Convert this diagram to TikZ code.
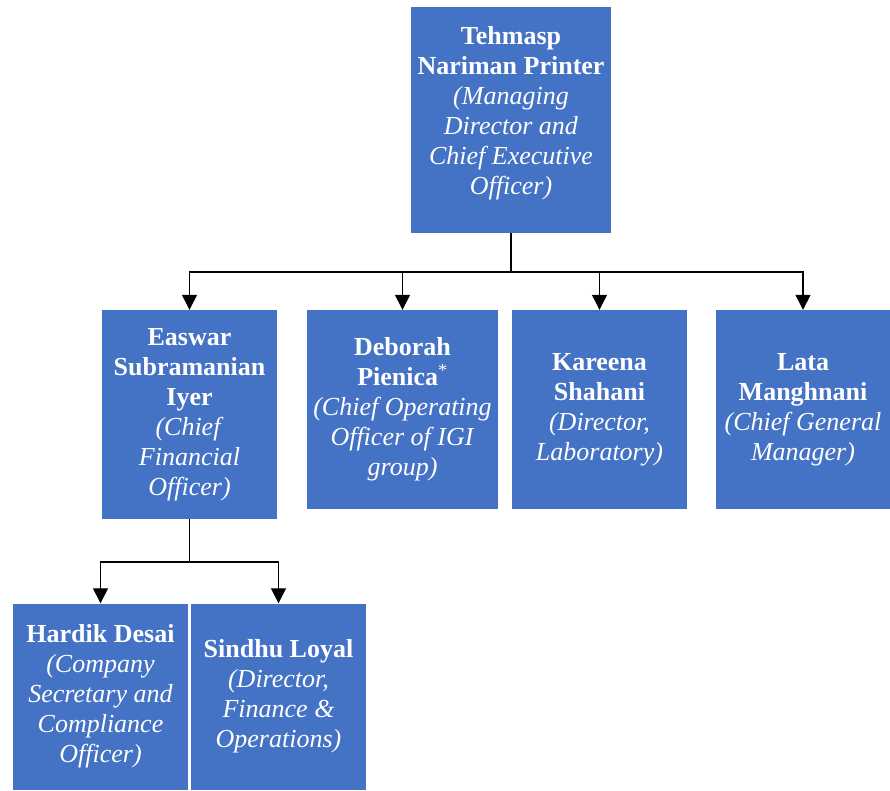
\documentclass[tikz,border=0pt]{standalone}
\usepackage{fontspec}
\setmainfont{Liberation Serif}
\usepackage{tikz}
\usetikzlibrary{arrows.meta,positioning}
\definecolor{orgblue}{HTML}{4472C4}

\begin{document}
\begin{tikzpicture}[x=1pt, y=1pt,
  member/.style={draw=none, fill=orgblue, text=white, align=center, inner sep=0pt,
    font=\fontsize{26}{30}\selectfont},
  link/.style={draw=black, line width=1.3pt},
  arrowed/.style={link, -{Triangle[width=15pt,length=15pt]}}]

  \useasboundingbox (0,0) rectangle (890,-790);

  % Define nodes for each person
  \node[member, minimum width=200, minimum height=226] (ceo) at (511,-120)
    {\textbf{Tehmasp}\\\textbf{Nariman Printer}\\\textit{(Managing}\\\textit{Director and}\\\textit{Chief Executive}\\\textit{Officer)}\\[-10pt]};
  \node[member, minimum width=175, minimum height=209] (cfo) at (189.5,-414.5)
    {\textbf{Easwar}\\\textbf{Subramanian}\\\textbf{Iyer}\\\textit{(Chief}\\\textit{Financial}\\\textit{Officer)}};
  \node[member, minimum width=191, minimum height=199] (coo) at (402.5,-409.5)
    {\textbf{Deborah}\\\textbf{Pienica}\textsuperscript{*}\\\textit{(Chief Operating}\\\textit{Officer of IGI}\\\textit{group)}};
  \node[member, minimum width=175, minimum height=199] (lab) at (599.5,-409.5)
    {\textbf{Kareena}\\\textbf{Shahani}\\\textit{(Director,}\\\textit{Laboratory)}};
  \node[member, minimum width=174, minimum height=199] (cgm) at (803,-409.5)
    {\textbf{Lata}\\\textbf{Manghnani}\\\textit{(Chief General}\\\textit{Manager)}};
  \node[member, minimum width=175, minimum height=186] (cs) at (100.5,-696.5)
    {\textbf{Hardik Desai}\\\textit{(Company}\\\textit{Secretary and}\\\textit{Compliance}\\\textit{Officer)}};
  \node[member, minimum width=175, minimum height=186] (fin) at (278.5,-696.5)
    {\textbf{Sindhu Loyal}\\\textit{(Director,}\\\textit{Finance \&}\\\textit{Operations)}};

  % Junctions of the connectors
  \coordinate (top bus) at (511,-272);
  \coordinate (cfo bus) at (189.5,-562);

  % Draw connectors between nodes
  \draw[link] (ceo) -- (top bus);
  \draw[arrowed] (top bus) -| (cfo.north);
  \draw[arrowed] (top bus) -| (coo.north);
  \draw[arrowed] (top bus) -| (lab.north);
  \draw[arrowed] (top bus) -| (cgm.north);
  \draw[link] (cfo) -- (cfo bus);
  \draw[arrowed] (cfo bus) -| (cs.north);
  \draw[arrowed] (cfo bus) -| (fin.north);
\end{tikzpicture}
\end{document}
